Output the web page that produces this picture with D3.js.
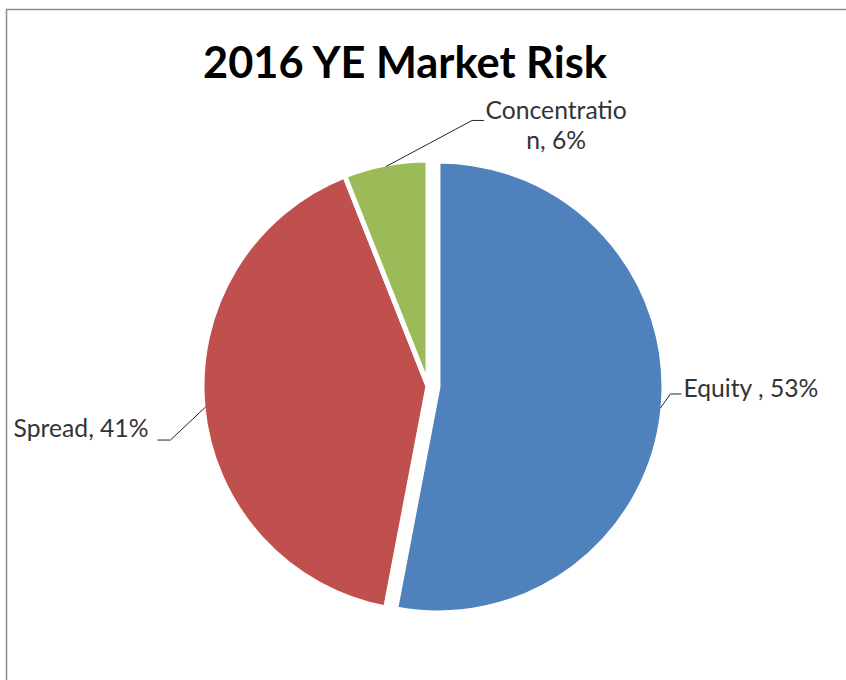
<!DOCTYPE html>
<html>
<head>
<meta charset="utf-8">
<script src="https://cdn.jsdelivr.net/npm/d3@7"></script>
<style>
  body { margin: 0; background: #ffffff; }
  svg { display: block; }
</style>
</head>
<body>
<svg id="chart" width="846" height="680"></svg>
<script>
// Market risk split at year end 2016 (percent of total)
const title = "2016 YE Market Risk";
const categories = ["Equity ", "Spread", "Concentration"];
const shares = [53, 41, 6];
const sliceColors = ["#4F81BD", "#C0504D", "#9BBB59"];

const svg = d3.select("#chart");
const W = 846, H = 680;

// chart frame
svg.append("rect")
  .attr("x", 6.5).attr("y", 9.5)
  .attr("width", W + 20).attr("height", H + 20)
  .attr("fill", "#ffffff")
  .attr("stroke", "#8c8c8c")
  .attr("stroke-width", 1.5);

// fit a font size so a string spans a given width
function fitFont(text, family, weight, targetWidth) {
  const probe = svg.append("text")
    .attr("font-family", family).attr("font-weight", weight)
    .attr("font-size", 100).text(text);
  const w = probe.node().getComputedTextLength();
  probe.remove();
  return 100 * targetWidth / w;
}

const titleFont = "Lato, 'Open Sans', sans-serif";
const labelFont = "Lato, 'Open Sans', sans-serif";

// title
const titleSize = fitFont(title, titleFont, 700, 404);
svg.append("text")
  .attr("x", 405).attr("y", 78)
  .attr("text-anchor", "middle")
  .attr("font-family", titleFont)
  .attr("font-weight", 700)
  .attr("font-size", titleSize)
  .attr("fill", "#000000")
  .text(title);

// pie geometry
const cx = 428, cy = 386, R = 226, stroke = 5;
const explode = [10, 0, 0];

const pie = d3.pie().sort(null).value(d => d);
const arcs = pie(shares);
const arc = d3.arc().innerRadius(0).outerRadius(R);

function dirOf(a) {
  const m = (a.startAngle + a.endAngle) / 2;
  return [Math.sin(m), -Math.cos(m)];
}

const slices = svg.append("g");
arcs.forEach((a, i) => {
  const [dx, dy] = dirOf(a);
  slices.append("path")
    .attr("transform", `translate(${cx + dx * explode[i]},${cy + dy * explode[i]})`)
    .attr("d", arc(a))
    .attr("fill", sliceColors[i])
    .attr("stroke", "#ffffff")
    .attr("stroke-width", stroke)
    .attr("stroke-linejoin", "miter");
});

// data labels with leader lines
const labelSize = fitFont("Spread, 41%", labelFont, 400, 135);
const maxLabelWidth = 145;

function measure(text) {
  const probe = svg.append("text")
    .attr("font-family", labelFont).attr("font-size", labelSize).text(text);
  const w = probe.node().getComputedTextLength();
  probe.remove();
  return w;
}

// break a label by characters once it gets wider than the label box
function wrapLabel(text) {
  const lines = [];
  let cur = "";
  for (const ch of text) {
    if (cur && measure(cur + ch) > maxLabelWidth) { lines.push(cur); cur = ch; }
    else cur += ch;
  }
  if (cur) lines.push(cur);
  return lines;
}

// leader placement per slice: elbow offset from the rim point, horizontal run, text side
const leaderLayout = [
  { elbow: [10, -14], run: 11, side: "right", gap: 2, base: 3 },
  { elbow: [-35, 33], run: -13, side: "left", gap: 9, base: -3 },
  { elbow: [86, -46], run: 12, side: "block", gap: 72, base: -1 }
];
const lineStep = 30;

const labels = svg.append("g")
  .attr("font-family", labelFont)
  .attr("font-size", labelSize)
  .attr("fill", "#333333");

arcs.forEach((a, i) => {
  const [dx, dy] = dirOf(a);
  const ox = cx + dx * explode[i], oy = cy + dy * explode[i];
  const rim = [ox + dx * (R - stroke / 2), oy + dy * (R - stroke / 2)];
  const L = leaderLayout[i];
  const elbow = [rim[0] + L.elbow[0], rim[1] + L.elbow[1]];
  const end = [elbow[0] + L.run, elbow[1]];

  svg.append("path")
    .attr("d", d3.line()([rim, elbow, end]))
    .attr("fill", "none")
    .attr("stroke", "#262626")
    .attr("stroke-width", 1);

  const text = `${categories[i]}, ${shares[i]}%`;
  const lines = wrapLabel(text);
  let x, anchor;
  if (L.side === "right") { x = end[0] + L.gap; anchor = "start"; }
  else if (L.side === "left") { x = end[0] - L.gap; anchor = "end"; }
  else { x = end[0] + L.gap; anchor = "middle"; }

  const t = labels.append("text")
    .attr("text-anchor", anchor);
  lines.forEach((ln, k) => {
    t.append("tspan")
      .attr("x", x)
      .attr("y", elbow[1] + L.base + k * lineStep)
      .text(ln);
  });
});
</script>
</body>
</html>
